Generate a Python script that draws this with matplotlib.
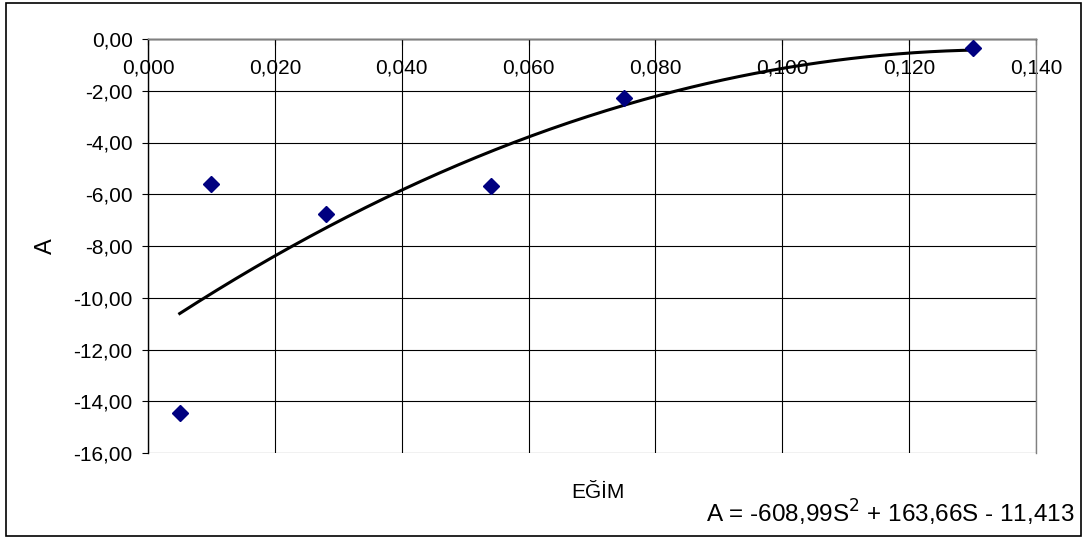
import numpy as np
import matplotlib
matplotlib.use("Agg")
import matplotlib.pyplot as plt
from matplotlib.patches import Rectangle

plt.rcParams['font.family'] = ['Liberation Sans', 'DejaVu Sans']

# Measured slope vs. coefficient A
egim = [0.005, 0.010, 0.028, 0.054, 0.075, 0.130]
a_vals = [-14.45, -5.60, -6.76, -5.68, -2.28, -0.35]

# Second-order trend line coefficients
coef = [-608.99, 163.66, -11.413]

x_ticks = [0.0, 0.02, 0.04, 0.06, 0.08, 0.10, 0.12, 0.14]
y_ticks = [0, -2, -4, -6, -8, -10, -12, -14, -16]

fig = plt.figure(figsize=(10.89, 5.39), dpi=100)
fig.patches.append(Rectangle((6 / 1089, 3 / 539), 1075 / 1089, 533 / 539,
                             transform=fig.transFigure, fill=False,
                             edgecolor='black', linewidth=1.2))

ax = fig.add_axes([148 / 1089, 1 - 453 / 539, 888 / 1089, 414 / 539])
ax.set_xlim(0, 0.14)
ax.set_ylim(-16, 0)

ax.set_xticks(x_ticks)
ax.set_yticks(y_ticks)
ax.set_xticklabels([f"{v:.3f}".replace('.', ',') for v in x_ticks])
ax.set_yticklabels([f"{v:.2f}".replace('.', ',') for v in y_ticks])
ax.grid(True, color='black', linewidth=0.8)
ax.set_axisbelow(True)

# x axis crosses at A = 0
ax.spines['bottom'].set_position(('data', 0))
ax.spines['bottom'].set_color('black')
ax.spines['left'].set_color('black')
ax.spines['top'].set_color('#808080')
ax.spines['right'].set_color('#808080')
for s in ax.spines.values():
    s.set_linewidth(1.0)

ax.tick_params(axis='x', direction='out', length=4, labelsize=15, pad=10)
ax.tick_params(axis='y', direction='out', length=4, labelsize=15, pad=7)

xs = np.linspace(min(egim), max(egim), 300)
ys = np.polyval(coef, xs)
ax.plot(xs, ys, color='black', linewidth=2.2, zorder=3)
ax.plot(egim, a_vals, linestyle='none', marker='D', markersize=8,
        color='#000080', zorder=4, clip_on=False)

fig.text(46 / 1089, 1 - 246 / 539, 'A', fontsize=17, rotation=90,
         ha='center', va='center')
fig.text(598 / 1089, 1 - 493 / 539, 'EĞİM', fontsize=15, ha='center', va='center')
fig.text(1075 / 1089, 1 - 513 / 539, 'A = -608,99S$^{2}$ + 163,66S - 11,413',
         fontsize=17.5, ha='right', va='center')

fig.savefig('out.png', dpi=100)
